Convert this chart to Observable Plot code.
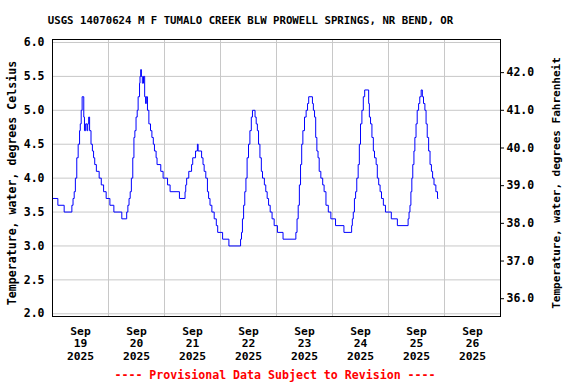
<!DOCTYPE html>
<html>
<head>
<meta charset="utf-8">
<script src="https://cdn.jsdelivr.net/npm/d3@7"></script>
<script src="https://cdn.jsdelivr.net/npm/@observablehq/plot@0.6"></script>
<style>
  html, body { margin: 0; padding: 0; background: #fff; }
  svg { display: block; }
</style>
</head>
<body>
<div id="chart"></div>
<script>
const titleText = "USGS 14070624 M F TUMALO CREEK BLW PROWELL SPRINGS, NR BEND, OR";
const leftLabel = "Temperature, water, degrees Celsius";
const rightLabel = "Temperature, water, degrees Fahrenheit";
const footerText = "---- Provisional Data Subject to Revision ----";

const startTime = "2025-09-19T00:00:00Z";
const endTime = "2025-09-27T00:00:00Z";
const dayStarts = ["2025-09-19","2025-09-20","2025-09-21","2025-09-22","2025-09-23","2025-09-24","2025-09-25","2025-09-26","2025-09-27"];
const celsiusTicks = [2.0, 2.5, 3.0, 3.5, 4.0, 4.5, 5.0, 5.5, 6.0];
const fahrenheitTicks = [36, 37, 38, 39, 40, 41, 42];

// hours after Sep 19 00:00, and water temperature (deg C)
const hours = [0,2.3,5.0,8.3,8.8,9.3,9.8,10.4,11.0,11.6,11.9,12.3,12.7,13.4,13.7,14.2,14.8,15.1,15.5,15.9,16.5,17.1,17.6,18.1,18.8,20.0,20.9,21.9,23.0,24.6,26.3,29.7,31.8,32.3,32.8,33.3,33.8,34.4,34.9,35.3,35.8,36.3,36.7,37.3,37.5,37.8,38.1,38.5,39.0,39.5,39.9,40.2,40.7,41.3,42.0,42.6,43.2,43.7,44.4,44.8,46.4,47.4,49.3,50.4,54.4,56.8,57.1,57.5,58.4,59.6,60.1,61.3,62.1,62.4,63.9,64.5,65.0,65.7,66.4,66.9,67.5,68.3,69.3,70.2,70.8,72.9,75.6,80.6,81.0,81.4,81.9,82.4,82.9,83.4,84.0,84.6,85.2,85.7,86.8,87.3,87.8,88.3,88.9,89.5,90.0,90.8,91.4,92.0,92.6,93.3,94.1,95.0,96.4,98.8,104.3,104.8,105.3,105.8,106.3,106.8,107.3,108.0,108.7,109.3,109.8,111.4,111.8,112.3,112.8,113.3,113.8,114.3,115.0,115.8,116.4,117.2,118.2,119.3,121.3,124.9,128.2,128.5,128.9,129.4,129.9,130.4,131.0,131.5,132.0,132.6,133.2,133.8,135.5,135.8,136.3,136.9,137.5,138.0,138.7,139.2,139.8,140.4,141.0,141.8,142.7,145.2,147.8,152.4,152.8,153.2,153.6,154.0,154.4,154.9,155.3,155.8,156.3,156.9,157.4,158.0,158.5,159.0,159.6,160.1,160.6,161.2,161.8,162.4,162.9,163.5,164.3,165.0,165.3];
const tempC = [3.7,3.6,3.5,3.6,3.7,3.8,4.0,4.3,4.5,4.7,4.8,5.0,5.2,4.9,4.7,4.8,4.7,4.8,4.9,4.7,4.5,4.4,4.3,4.2,4.1,4.0,3.9,3.8,3.7,3.6,3.5,3.4,3.5,3.6,3.7,3.8,4.0,4.3,4.6,4.7,4.9,5.0,5.2,5.4,5.5,5.6,5.5,5.4,5.5,5.2,5.1,5.2,5.0,4.8,4.7,4.6,4.5,4.4,4.3,4.2,4.1,4.0,3.9,3.8,3.7,3.8,3.9,4.0,4.1,4.2,4.3,4.4,4.5,4.4,4.3,4.2,4.1,4.0,3.8,3.7,3.6,3.5,3.4,3.3,3.2,3.1,3.0,3.1,3.2,3.4,3.6,3.8,4.0,4.3,4.5,4.7,4.9,5.0,4.9,4.8,4.7,4.5,4.3,4.1,4.0,3.9,3.8,3.7,3.6,3.5,3.4,3.3,3.2,3.1,3.2,3.4,3.6,3.9,4.2,4.5,4.7,4.9,5.0,5.1,5.2,5.1,5.0,4.9,4.6,4.4,4.3,4.1,4.0,3.9,3.8,3.6,3.5,3.4,3.3,3.2,3.3,3.4,3.5,3.7,3.8,4.0,4.2,4.5,4.8,5.0,5.2,5.3,5.1,4.9,4.8,4.6,4.4,4.3,4.2,4.0,3.9,3.8,3.7,3.6,3.5,3.4,3.3,3.4,3.5,3.6,3.8,4.0,4.2,4.4,4.6,4.8,5.0,5.1,5.2,5.3,5.2,5.1,5.0,4.8,4.6,4.4,4.2,4.1,4.0,3.9,3.8,3.7,3.7];

const t0 = new Date(startTime);
const data = hours.map((h, i) => ({date: new Date(+t0 + h * 3600e3), value: tempC[i]}));
const midnights = dayStarts.map(d => new Date(d + "T00:00:00Z"));
const noons = dayStarts.slice(0, -1).map(d => new Date(d + "T12:00:00Z"));
const fTicksInC = fahrenheitTicks.map(f => (f - 32) / 1.8);

const font = "'DejaVu Sans Mono', monospace";
const chart = Plot.plot({
  width: 576,
  height: 384,
  marginTop: 39,
  marginBottom: 68,
  marginLeft: 52,
  marginRight: 76,
  style: {fontFamily: font, fontSize: "11.3px", fontWeight: "bold", background: "#fff"},
  x: {type: "utc", domain: [new Date(startTime), new Date(endTime)]},
  y: {domain: [1.96, 6.044]},
  marks: [
    Plot.gridY(celsiusTicks, {stroke: "#c8c8c8", strokeOpacity: 1}),
    Plot.gridX(midnights, {stroke: "#c8c8c8", strokeOpacity: 1}),
    Plot.axisY(celsiusTicks, {anchor: "left", tickSize: 0, tickPadding: 8, tickFormat: d3.format(".1f"), label: null, fill: "black", fontSize: 11.5}),
    Plot.axisY(fTicksInC, {anchor: "right", tickSize: 3, tickPadding: 3, tickFormat: d => (d * 1.8 + 32).toFixed(1), label: null, fill: "black", fontSize: 11.5}),
    Plot.axisX(noons, {anchor: "bottom", tickSize: 0, tickPadding: 9, tickFormat: d3.utcFormat("%b\n%-d\n%Y"), label: null, lineHeight: 1.12, fill: "black"}),
    Plot.line(data, {x: "date", y: "value", curve: "step-after", stroke: "#0000ff", strokeWidth: 1}),
    Plot.frame({stroke: "black", strokeWidth: 1}),
    Plot.text([titleText], {frameAnchor: "top", dx: -26, dy: -18.5, lineAnchor: "middle", textAnchor: "middle", fontSize: 10.7, fill: "black"}),
    Plot.text([leftLabel], {frameAnchor: "left", rotate: -90, dx: -40.5, dy: 5, lineAnchor: "middle", textAnchor: "middle", fontSize: 11.6, fill: "black"}),
    Plot.text([rightLabel], {frameAnchor: "right", rotate: -90, dx: 56, dy: 5, lineAnchor: "middle", textAnchor: "middle", fontSize: 11, fill: "black"}),
    Plot.text([footerText], {frameAnchor: "bottom", dx: -1.5, dy: 59, lineAnchor: "middle", textAnchor: "middle", fontSize: 11.6, fill: "#ff0000"})
  ]
});
document.getElementById("chart").appendChild(chart);
</script>
</body>
</html>
